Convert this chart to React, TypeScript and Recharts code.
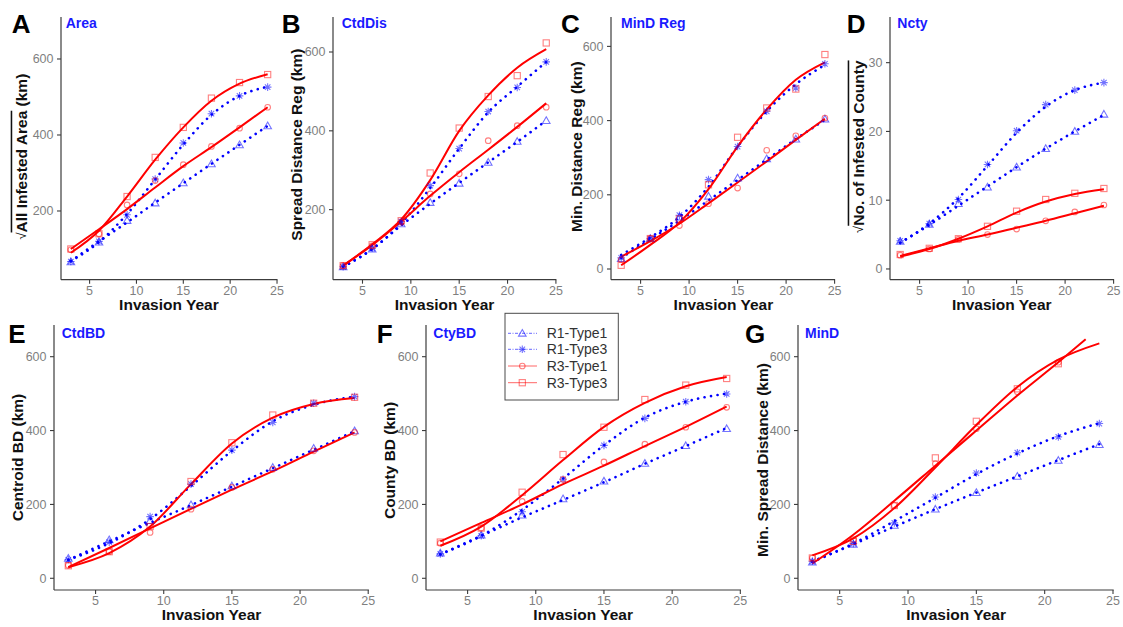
import React from 'react';
import { ComposedChart, Line, Scatter, XAxis, YAxis } from 'recharts';

const FONT = '"Liberation Sans", Arial, Helvetica, sans-serif';
const RED = '#ff0000';
const BLUE = '#0000ff';
const AXIS = '#3c3c3c';
const TICKTXT = '#7f7f7f';

// ---------- categories / ticks ----------
const years = [3, 6, 9, 12, 15, 18, 21, 24];
const yearsTo21 = [3, 6, 9, 12, 15, 18, 21];
const yearsTo23 = [3, 6, 9, 12, 15, 18, 21, 23];
const xTicks = [5, 10, 15, 20, 25];
const yTicksKm = [0, 200, 400, 600];
const yTicksKmTop = [200, 400, 600];
const yTicksCounty = [0, 10, 20, 30];
const seriesNames = ['R1-Type1', 'R1-Type3', 'R3-Type1', 'R3-Type3'];

// ---------- A: Area ----------
const aR1T1 = [66, 118, 175, 221, 274, 324, 374, 424];
const aR1T3 = [67, 120, 190, 284, 379, 456, 503, 526];
const aR3T1 = [98, 140, 216, 280, 322, 370, 418, 473];
const aR3T3 = [100, 140, 238, 341, 420, 497, 538, 559];
const aR1T1fit = [68, 120, 170, 222, 273, 324, 374, 424];
const aR1T3fit = [68, 118, 192, 283, 375, 453, 503, 527];
const aR3T1fit = [100, 152, 205, 262, 318, 368, 420, 473];
const aR3T3fit = [90, 148, 238, 335, 420, 490, 535, 560];

// ---------- B: CtdDis ----------
const bR1T1 = [55, 100, 164, 218, 267, 320, 373, 426];
const bR1T3 = [55, 102, 170, 261, 355, 449, 510, 575];
const bR3T1 = [58, 108, 168, 240, 291, 375, 413, 460];
const bR3T3 = [58, 111, 172, 293, 407, 487, 540, 623];
const bR1T1fit = [55, 100, 160, 215, 268, 320, 372, 426];
const bR1T3fit = [55, 100, 165, 255, 355, 447, 512, 575];
const bR3T1fit = [58, 110, 170, 235, 295, 352, 410, 470];
const bR3T3fit = [58, 112, 175, 275, 400, 490, 560, 607];

// ---------- C: MinD Reg ----------
const cR1T1 = [28, 82, 140, 196, 245, 297, 350, 404];
const cR1T3 = [30, 82, 145, 241, 330, 425, 488, 553];
const cR3T1 = [25, 82, 117, 176, 218, 320, 359, 407];
const cR3T3 = [10, 82, 135, 227, 355, 434, 485, 578];
const cR1T1fit = [30, 80, 130, 185, 240, 295, 350, 402];
const cR1T3fit = [38, 85, 140, 222, 330, 425, 498, 550];
const cR3T1fit = [33, 75, 122, 177, 233, 290, 348, 405];
const cR3T3fit = [10, 65, 125, 215, 330, 430, 510, 557];

// ---------- D: Ncty ----------
const dR1T1 = [4.0, 6.5, 9.5, 11.9, 14.8, 17.5, 20.0, 22.5];
const dR1T3 = [4.1, 6.6, 10.1, 15.2, 20.1, 23.9, 26.0, 27.1];
const dR3T1 = [2.0, 2.9, 4.3, 5.0, 5.8, 7.0, 8.3, 9.3];
const dR3T3 = [2.1, 3.0, 4.4, 6.2, 8.4, 10.1, 11.0, 11.7];
const dR1T1fit = [3.8, 6.4, 9.2, 12.0, 14.8, 17.5, 20.0, 22.4];
const dR1T3fit = [3.8, 6.6, 10.3, 15.0, 19.8, 23.6, 26.0, 27.1];
const dR3T1fit = [1.9, 3.0, 4.1, 5.0, 6.0, 7.0, 8.1, 9.2];
const dR3T3fit = [1.8, 2.9, 4.4, 6.2, 8.2, 9.8, 10.9, 11.6];

// ---------- E: CtdBD ----------
const eR1T1 = [54, 104, 156, 199, 250, 300, 352, 399];
const eR1T3 = [50, 98, 167, 255, 347, 422, 474, 492];
const eR3T1 = [35, 72, 124, 187, 246, 295, 345, 395];
const eR3T3 = [34, 72, 140, 262, 367, 442, 474, 490];
const eR1T1fit = [50, 100, 150, 198, 248, 298, 348, 398];
const eR1T3fit = [50, 95, 160, 250, 345, 425, 470, 492];
const eR3T1fit = [30, 82, 135, 188, 240, 290, 343, 395];
const eR3T3fit = [30, 68, 140, 255, 365, 435, 472, 488];

// ---------- F: CtyBD ----------
const fR1T1 = [68, 117, 171, 215, 263, 311, 359, 405];
const fR1T3 = [66, 115, 180, 268, 360, 433, 478, 499];
const fR3T1 = [95, 136, 208, 268, 315, 363, 409, 463];
const fR3T3 = [98, 136, 233, 335, 409, 484, 523, 541];
const fR1T1fit = [65, 115, 165, 212, 260, 310, 358, 407];
const fR1T3fit = [65, 115, 185, 270, 360, 435, 478, 500];
const fR3T1fit = [100, 150, 200, 255, 305, 358, 410, 465];
const fR3T3fit = [88, 140, 225, 320, 410, 475, 520, 545];

// ---------- G: MinD ----------
const gR1T1 = [44, 92, 143, 187, 232, 276, 319, 362];
const gR1T3 = [46, 94, 150, 220, 285, 340, 383, 419];
const gR3T1 = [55, 105, 197, 310, 405, 505, 585];
const gR3T3 = [55, 100, 197, 326, 425, 513, 581];
const gR1T1fit = [44, 92, 140, 187, 232, 276, 320, 363];
const gR1T3fit = [46, 94, 155, 218, 282, 338, 385, 420];
const gR3T1fit = [40, 118, 210, 305, 400, 495, 585, 647];
const gR3T3fit = [62, 108, 190, 300, 415, 518, 592, 636];

type Pt = { x: number; y: number };
const mk = (xs: number[], ys: number[]): Pt[] => ys.map((y, i) => ({ x: xs[i], y }));

// ---------- marker shapes ----------
const Triangle = (p: any) => {
  const { cx, cy } = p;
  if (cx == null || cy == null) return null;
  const s = 3.8;
  return (
    <path
      d={`M${cx},${cy - s} L${cx + s},${cy + s * 0.75} L${cx - s},${cy + s * 0.75} Z`}
      fill="none"
      stroke={BLUE}
      strokeOpacity={0.55}
      strokeWidth={1.1}
    />
  );
};
const Asterisk = (p: any) => {
  const { cx, cy } = p;
  if (cx == null || cy == null) return null;
  const s = 3.8;
  const d = s * 0.72;
  return (
    <path
      d={`M${cx - s},${cy} H${cx + s} M${cx},${cy - s} V${cy + s} M${cx - d},${cy - d} L${cx + d},${cy + d} M${cx - d},${cy + d} L${cx + d},${cy - d}`}
      fill="none"
      stroke={BLUE}
      strokeOpacity={0.55}
      strokeWidth={1.1}
    />
  );
};
const Circ = (p: any) => {
  const { cx, cy } = p;
  if (cx == null || cy == null) return null;
  return <circle cx={cx} cy={cy} r={2.8} fill="none" stroke={RED} strokeOpacity={0.5} strokeWidth={1.1} />;
};
const Sq = (p: any) => {
  const { cx, cy } = p;
  if (cx == null || cy == null) return null;
  const s = 3.1;
  return <rect x={cx - s} y={cy - s} width={2 * s} height={2 * s} fill="none" stroke={RED} strokeOpacity={0.5} strokeWidth={1.1} />;
};

type Panel = {
  letter: string;
  name: string;
  yTitle: string;
  sqrtPart?: string;
  plot: { l: number; r: number; t: number; b: number };
  yDomain: [number, number];
  yTicks: number[];
  titleOff: number;
  titleShift: number;
  letterPos: [number, number];
  namePos: [number, number];
  r1t1: Pt[]; r1t3: Pt[]; r3t1: Pt[]; r3t3: Pt[];
  r1t1f: Pt[]; r1t3f: Pt[]; r3t1f: Pt[]; r3t3f: Pt[];
};

const panels: Panel[] = [
  {
    letter: 'A', name: 'Area', sqrtPart: 'All Infested Area', yTitle: ' (km)',
    plot: { l: 60.7, r: 277.2, t: 17.3, b: 280 }, yDomain: [19.2, 710.5], yTicks: yTicksKmTop,
    titleOff: 40, titleShift: 8, letterPos: [11.7, 33.3], namePos: [65.7, 28],
    r1t1: mk(years, aR1T1), r1t3: mk(years, aR1T3), r3t1: mk(years, aR3T1), r3t3: mk(years, aR3T3),
    r1t1f: mk(years, aR1T1fit), r1t3f: mk(years, aR1T3fit), r3t1f: mk(years, aR3T1fit), r3t3f: mk(years, aR3T3fit),
  },
  {
    letter: 'B', name: 'CtdDis', yTitle: 'Spread Distance Reg (km)',
    plot: { l: 332.8, r: 556.2, t: 17.3, b: 280 }, yDomain: [22.3, 688.8], yTicks: yTicksKmTop,
    titleOff: 36, titleShift: -4, letterPos: [281.7, 33.3], namePos: [341.7, 28],
    r1t1: mk(years, bR1T1), r1t3: mk(years, bR1T3), r3t1: mk(years, bR3T1), r3t3: mk(years, bR3T3),
    r1t1f: mk(years, bR1T1fit), r1t3f: mk(years, bR1T3fit), r3t1f: mk(years, bR3T1fit), r3t3f: mk(years, bR3T3fit),
  },
  {
    letter: 'C', name: 'MinD Reg', yTitle: 'Min. Distance Reg (km)',
    plot: { l: 611.4, r: 835.5, t: 17.3, b: 280 }, yDomain: [-28.8, 679.2], yTicks: yTicksKm,
    titleOff: 34.5, titleShift: -2, letterPos: [561, 33.3], namePos: [621, 28],
    r1t1: mk(years, cR1T1), r1t3: mk(years, cR1T3), r3t1: mk(years, cR3T1), r3t3: mk(years, cR3T3),
    r1t1f: mk(years, cR1T1fit), r1t3f: mk(years, cR1T3fit), r3t1f: mk(years, cR3T1fit), r3t3f: mk(years, cR3T3fit),
  },
  {
    letter: 'D', name: 'Ncty', sqrtPart: 'No. of Infested County', yTitle: '',
    plot: { l: 889.7, r: 1113.8, t: 17.3, b: 280 }, yDomain: [-1.56, 36.64], yTicks: yTicksCounty,
    titleOff: 32, titleShift: -2, letterPos: [846.7, 33.3], namePos: [897.3, 28],
    r1t1: mk(years, dR1T1), r1t3: mk(years, dR1T3), r3t1: mk(years, dR3T1), r3t3: mk(years, dR3T3),
    r1t1f: mk(years, dR1T1fit), r1t3f: mk(years, dR1T3fit), r3t1f: mk(years, dR3T1fit), r3t3f: mk(years, dR3T3fit),
  },
  {
    letter: 'E', name: 'CtdBD', yTitle: 'Centroid BD (km)',
    plot: { l: 54.1, r: 369, t: 325, b: 590 }, yDomain: [-31.7, 685.8], yTicks: yTicksKm,
    titleOff: 37, titleShift: 0, letterPos: [8.3, 343.3], namePos: [61.7, 338],
    r1t1: mk(years, eR1T1), r1t3: mk(years, eR1T3), r3t1: mk(years, eR3T1), r3t3: mk(years, eR3T3),
    r1t1f: mk(years, eR1T1fit), r1t3f: mk(years, eR1T3fit), r3t1f: mk(years, eR3T1fit), r3t3f: mk(years, eR3T3fit),
  },
  {
    letter: 'F', name: 'CtyBD', yTitle: 'County BD (km)',
    plot: { l: 425.7, r: 740.7, t: 325, b: 590 }, yDomain: [-31.7, 685.8], yTicks: yTicksKm,
    titleOff: 36.5, titleShift: 3, letterPos: [376.7, 343.3], namePos: [433.3, 338],
    r1t1: mk(years, fR1T1), r1t3: mk(years, fR1T3), r3t1: mk(years, fR3T1), r3t3: mk(years, fR3T3),
    r1t1f: mk(years, fR1T1fit), r1t3f: mk(years, fR1T3fit), r3t1f: mk(years, fR3T1fit), r3t3f: mk(years, fR3T3fit),
  },
  {
    letter: 'G', name: 'MinD', yTitle: 'Min. Spread Distance (km)',
    plot: { l: 798.3, r: 1114, t: 325, b: 590 }, yDomain: [-31.7, 685.8], yTicks: yTicksKm,
    titleOff: 35.5, titleShift: 2.5, letterPos: [745, 343.3], namePos: [805, 338],
    r1t1: mk(years, gR1T1), r1t3: mk(years, gR1T3), r3t1: mk(yearsTo21, gR3T1), r3t3: mk(yearsTo21, gR3T3),
    r1t1f: mk(years, gR1T1fit), r1t3f: mk(years, gR1T3fit), r3t1f: mk(yearsTo23, gR3T1fit), r3t3f: mk(years, gR3T3fit),
  },
];

const YW = 52;
const MT = 6;
const MR = 8;
const XH = 38;

const blueLine = { stroke: BLUE, strokeWidth: 2.6, strokeDasharray: '0.1 6.5', strokeLinecap: 'round' as const };
const redLine = { stroke: RED, strokeWidth: 2 };

function PanelChart({ p }: { p: Panel }) {
  const pw = p.plot.r - p.plot.l;
  const ph = p.plot.b - p.plot.t;
  const width = YW + pw + MR;
  const height = MT + ph + XH;
  return (
    <div style={{ position: 'absolute', left: p.plot.l - YW, top: p.plot.t - MT }}>
      <ComposedChart width={width} height={height} margin={{ top: MT, right: MR, left: 0, bottom: 0 }}>
        <XAxis
          dataKey="x"
          type="number"
          domain={[1.95, 25.05]}
          ticks={xTicks}
          allowDataOverflow
          height={XH}
          tickSize={4}
          tickMargin={2}
          axisLine={{ stroke: AXIS, strokeWidth: 1.2 }}
          tickLine={{ stroke: AXIS, strokeWidth: 1.1 }}
          tick={{ fill: TICKTXT, fontSize: 12.5, fontFamily: FONT }}
        />
        <YAxis
          type="number"
          domain={p.yDomain}
          ticks={p.yTicks}
          allowDataOverflow
          width={YW}
          tickSize={4}
          tickMargin={3.5}
          axisLine={{ stroke: AXIS, strokeWidth: 1.2 }}
          tickLine={{ stroke: AXIS, strokeWidth: 1.1 }}
          tick={{ fill: TICKTXT, fontSize: 12.5, fontFamily: FONT }}
        />
        <Scatter data={p.r1t1} dataKey="y" shape={Triangle} isAnimationActive={false} />
        <Scatter data={p.r1t3} dataKey="y" shape={Asterisk} isAnimationActive={false} />
        <Scatter data={p.r3t1} dataKey="y" shape={Circ} isAnimationActive={false} />
        <Scatter data={p.r3t3} dataKey="y" shape={Sq} isAnimationActive={false} />
        <Line data={p.r1t1f} dataKey="y" type="monotone" dot={false} activeDot={false} {...blueLine} isAnimationActive={false} />
        <Line data={p.r1t3f} dataKey="y" type="monotone" dot={false} activeDot={false} {...blueLine} isAnimationActive={false} />
        <Line data={p.r3t1f} dataKey="y" type="monotone" dot={false} activeDot={false} {...redLine} isAnimationActive={false} />
        <Line data={p.r3t3f} dataKey="y" type="monotone" dot={false} activeDot={false} {...redLine} isAnimationActive={false} />
      </ComposedChart>
    </div>
  );
}

function LegendBox() {
  const x0 = 505;
  const y0 = 313.3;
  const rows = [333.3, 349.3, 366, 382.7];
  return (
    <g>
      <rect x={x0} y={y0} width={113.3} height={86.7} fill="#ffffff" stroke="#4a4a4a" strokeWidth={1} />
      {seriesNames.map((n, i) => {
        const y = rows[i];
        const isBlue = i < 2;
        const col = isBlue ? BLUE : RED;
        const cx = 522.3;
        let sym: React.ReactNode = null;
        if (i === 0) sym = <Triangle cx={cx} cy={y} />;
        if (i === 1) sym = <Asterisk cx={cx} cy={y} />;
        if (i === 2) sym = <Circ cx={cx} cy={y} />;
        if (i === 3) sym = <Sq cx={cx} cy={y} />;
        return (
          <g key={n}>
            <line
              x1={508}
              x2={537}
              y1={y}
              y2={y}
              stroke={col}
              strokeOpacity={0.6}
              strokeWidth={1}
              strokeDasharray={isBlue ? '3 1.5 1 1.5' : undefined}
            />
            {sym}
            <text x={546.7} y={y} dominantBaseline="central" fontSize={14} fill="#333" fontFamily={FONT}>
              {n}
            </text>
          </g>
        );
      })}
    </g>
  );
}

function Overlay() {
  return (
    <svg
      width={1123}
      height={627}
      style={{ position: 'absolute', left: 0, top: 0, pointerEvents: 'none' }}
      fontFamily={FONT}
    >
      {panels.map((p) => {
        const cx = (p.plot.l + p.plot.r) / 2;
        const tx = p.plot.l - p.titleOff;
        const ty = (p.plot.t + p.plot.b) / 2 + p.titleShift;
        return (
          <g key={p.letter}>
            <text x={p.letterPos[0]} y={p.letterPos[1]} fontSize={26} fontWeight="bold" fill="#000">
              {p.letter}
            </text>
            <text x={p.namePos[0]} y={p.namePos[1]} fontSize={14} fontWeight="bold" fill="#1a1aff">
              {p.name}
            </text>
            <text x={cx} y={p.plot.b + 30} fontSize={15.5} fontWeight="bold" fill="#111" textAnchor="middle">
              Invasion Year
            </text>
            <text
              x={tx}
              y={ty}
              fontSize={15.5}
              fontWeight="bold"
              fill="#111"
              textAnchor="middle"
              dominantBaseline="central"
              transform={`rotate(-90 ${tx} ${ty})`}
            >
              {p.sqrtPart ? (
                <>
                  <tspan fontWeight="normal" fontSize={13}>√</tspan>
                  <tspan style={{ textDecoration: 'overline' }}>{p.sqrtPart}</tspan>
                  <tspan>{p.yTitle}</tspan>
                </>
              ) : (
                p.yTitle
              )}
            </text>
          </g>
        );
      })}
      <LegendBox />
    </svg>
  );
}

export default function App() {
  return (
    <div
      style={{
        position: 'absolute',
        left: 0,
        top: 0,
        width: 1123,
        height: 627,
        background: '#ffffff',
        overflow: 'hidden',
        fontFamily: FONT,
      }}
    >
      {panels.map((p) => (
        <PanelChart key={p.letter} p={p} />
      ))}
      <Overlay />
    </div>
  );
}
